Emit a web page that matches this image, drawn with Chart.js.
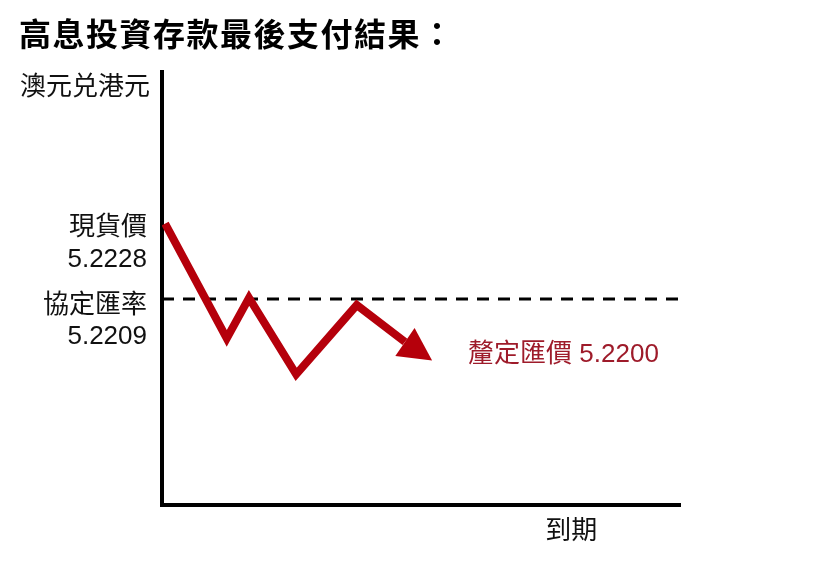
<!DOCTYPE html>
<html>
<head>
<meta charset="utf-8">
<script src="https://cdn.jsdelivr.net/npm/chart.js@4"></script>
<style>
  body { margin: 0; background: #fff; }
</style>
</head>
<body>
<canvas id="myChart" width="840" height="580"></canvas>
<script>
const ctx = document.getElementById("myChart").getContext("2d");

// path of the rate until maturity (x = time 0..100, y = AUD/HKD)
const timeX = [0.6, 12.5, 16.8, 25.9, 37.6, 46.9];
const rateY = [5.2228, 5.21991, 5.22093, 5.21900, 5.22075, 5.21982];
const strikeX = [0, 100];
const spotRate = 5.2228;
const strikeRate = 5.2209;
const fixingRate = '5.2200';
const maturityX = 79;

const titleText = '高息投資存款最後支付結果：';
const yAxisLabel = '澳元兑港元';
const xAxisLabel = '到期';
const spotLabel = ['現貨價', '5.2228'];
const strikeLabel = ['協定匯率', '5.2209'];
const fixingLabel = '釐定匯價 ' + fixingRate;

const red = '#b5000b';
const font = '"Liberation Sans", "Noto Sans CJK TC", sans-serif';

// arrow head + all the texts
const annotate = {
    id: 'annotate',
    afterDatasetsDraw(chart) {
        const c = chart.ctx;
        const xs = chart.scales.x, ys = chart.scales.y;
        const n = timeX.length;
        const x1 = xs.getPixelForValue(timeX[n - 2]), y1 = ys.getPixelForValue(rateY[n - 2]);
        const x2 = xs.getPixelForValue(timeX[n - 1]), y2 = ys.getPixelForValue(rateY[n - 1]);
        const a = Math.atan2(y2 - y1, x2 - x1) - 0.05;
        const len = 33, half = 17;
        c.save();
        c.fillStyle = red;
        c.beginPath();
        c.moveTo(x2 + Math.cos(a) * len, y2 + Math.sin(a) * len);
        c.lineTo(x2 - Math.sin(a) * half, y2 + Math.cos(a) * half);
        c.lineTo(x2 + Math.sin(a) * half, y2 - Math.cos(a) * half);
        c.closePath();
        c.fill();

        const tipX = x2 + Math.cos(a) * len, tipY = y2 + Math.sin(a) * len;
        c.textBaseline = 'middle';
        c.font = '26px ' + font;
        c.fillStyle = '#9e1b2a';
        c.textAlign = 'left';
        c.fillText(fixingLabel, tipX + 36, tipY - 6);

        c.fillStyle = '#111';
        c.textAlign = 'right';
        const sy = ys.getPixelForValue(spotRate);
        c.fillText(spotLabel[0], 147, sy + 4);
        c.fillText(spotLabel[1], 147, sy + 36);
        const ky = ys.getPixelForValue(strikeRate);
        c.fillText(strikeLabel[0], 147, ky + 7);
        c.fillText(strikeLabel[1], 147, ky + 38);

        c.textAlign = 'left';
        c.fillText(yAxisLabel, 20, 88);
        c.textAlign = 'center';
        c.fillText(xAxisLabel, xs.getPixelForValue(maturityX), 532);

        c.textAlign = 'left';
        c.font = 'bold 32px ' + font;
        c.letterSpacing = '1.5px';
        c.fillStyle = '#000';
        c.fillText(titleText, 19, 37);
        c.restore();
    }
};

const data = {
    datasets: [{
        data: timeX.map((x, i) => ({ x, y: rateY[i] })),
        borderColor: red,
        borderWidth: 8,
        borderJoinStyle: 'miter',
        borderCapStyle: 'butt',
        pointRadius: 0,
        tension: 0,
    }, {
        data: strikeX.map(x => ({ x, y: strikeRate })),
        borderColor: '#000',
        borderWidth: 3,
        borderDash: [12, 9],
        pointRadius: 0,
    }],
};

const config = {
    type: 'line',
    data: data,
    options: {
        responsive: false,
        animation: false,
        layout: { padding: { left: 154, top: 72, right: 160, bottom: 67 } },
        plugins: { legend: { display: false }, tooltip: { enabled: false } },
        scales: {
            x: {
                type: 'linear', min: 0, max: 100,
                ticks: { display: false },
                grid: { display: false },
                border: { display: true, color: '#000', width: 4 },
            },
            y: {
                min: 5.215707, max: 5.226625,
                ticks: { display: false },
                grid: { display: false },
                border: { display: true, color: '#000', width: 4 },
            }
        }
    },
    plugins: [annotate],
};
const myChart = new Chart(ctx, config);
</script>
</body>
</html>
